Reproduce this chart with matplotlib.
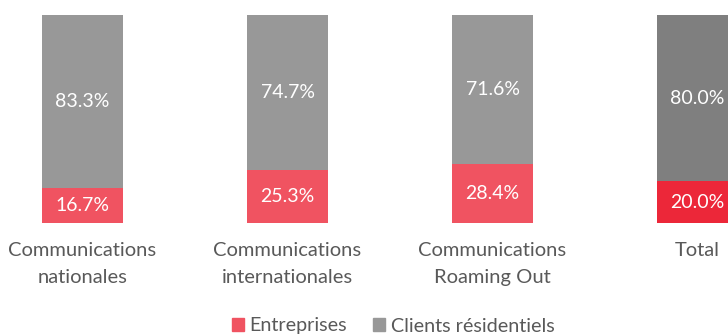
import matplotlib
matplotlib.use("Agg")
import matplotlib.pyplot as plt
from matplotlib.patches import Patch

plt.rcParams['font.family'] = ['Lato', 'DejaVu Sans']

categories = ["Communications\nnationales", "Communications\ninternationales",
              "Communications\nRoaming Out", "Total"]
entreprises = [16.7, 25.3, 28.4, 20.0]
residentiels = [83.3, 74.7, 71.6, 80.0]
series_names = ["Entreprises", "Clients résidentiels"]

red_colors = ["#F05361", "#F05361", "#F05361", "#EC2739"]
gray_colors = ["#989898", "#989898", "#989898", "#7F7F7F"]

W, H = 728, 335
fig = plt.figure(figsize=(W / 100, H / 100), dpi=100)
# plot area spans beyond the right edge so the last bar is clipped
ax = fig.add_axes([-20 / W, 112 / H, 820 / W, 208 / H])

x = list(range(len(categories)))
bw = 81 / 205
ax.bar(x, entreprises, width=bw, color=red_colors, linewidth=0)
ax.bar(x, residentiels, width=bw, bottom=entreprises, color=gray_colors, linewidth=0)

for xi, e, r in zip(x, entreprises, residentiels):
    ax.text(xi, e / 2, f"{e:.1f}%", ha="center", va="center", color="white", fontsize=14)
    ax.text(xi, e + r / 2, f"{r:.1f}%", ha="center", va="center", color="white", fontsize=14)

ax.set_xlim(-0.5, 3.5)
ax.set_ylim(0, 100)
ax.set_xticks(x)
ax.set_xticklabels(categories, fontsize=14.5, color="#595959", linespacing=1.65)
ax.tick_params(axis="x", length=0, pad=14)
ax.set_yticks([])
for s in ax.spines.values():
    s.set_visible(False)

handles = [Patch(color=red_colors[0]), Patch(color=gray_colors[0])]
fig.legend(handles, series_names, loc="center", bbox_to_anchor=(393 / W, 1 - 326 / H),
           ncol=2, frameon=False, fontsize=14.2, handlelength=0.6, handleheight=0.6,
           handletextpad=0.3, columnspacing=1.3, labelcolor="#595959")

fig.savefig("out.png", dpi=100)
